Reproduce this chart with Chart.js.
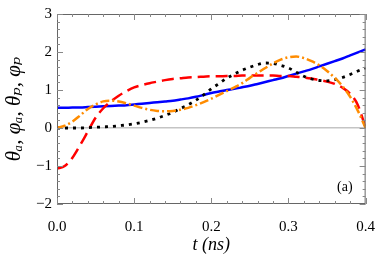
<!DOCTYPE html>
<html>
<head>
<meta charset="utf-8">
<script src="https://cdn.jsdelivr.net/npm/chart.js@4/dist/chart.umd.min.js"></script>
<style>
  html, body { margin: 0; padding: 0; background: #fff; }
  #wrap { width: 381px; height: 256px; }
</style>
</head>
<body>
<div id="wrap"><canvas id="myChart" width="381" height="256"></canvas></div>
<script>
// time axis (ns)
const tValues = [0.00,0.01,0.02,0.03,0.04,0.05,0.06,0.07,0.08,0.09,
  0.10,0.11,0.12,0.13,0.14,0.15,0.16,0.17,0.18,0.19,
  0.20,0.21,0.22,0.23,0.24,0.25,0.26,0.27,0.28,0.29,
  0.30,0.31,0.32,0.33,0.34,0.35,0.36,0.37,0.38,0.39,0.40];

// blue solid
const thetaA = [0.53,0.53,0.54,0.54,0.55,0.56,0.57,0.58,0.59,0.60,
  0.62,0.64,0.66,0.68,0.70,0.72,0.75,0.78,0.82,0.87,
  0.92,0.96,1.00,1.03,1.07,1.11,1.16,1.21,1.26,1.31,
  1.37,1.43,1.49,1.55,1.62,1.69,1.76,1.83,1.91,1.99,2.07];

// red long dash
const phiA = [-1.07,-1.00,-0.78,-0.45,-0.09,0.27,0.52,0.70,0.85,0.97,
  1.07,1.13,1.18,1.22,1.26,1.29,1.31,1.33,1.34,1.35,
  1.36,1.36,1.37,1.37,1.38,1.38,1.38,1.38,1.38,1.37,
  1.37,1.35,1.33,1.30,1.26,1.22,1.16,1.06,0.90,0.60,0.00];

// black dotted
const thetaP = [0.00,0.00,0.00,0.00,0.01,0.02,0.03,0.04,0.06,0.08,
  0.11,0.15,0.20,0.26,0.33,0.41,0.51,0.61,0.73,0.87,
  1.03,1.17,1.31,1.42,1.52,1.60,1.67,1.71,1.70,1.65,
  1.58,1.47,1.36,1.29,1.25,1.24,1.27,1.33,1.41,1.50,1.58];

// orange dash-dot
const phiP = [0.00,0.06,0.17,0.33,0.50,0.62,0.70,0.72,0.70,0.65,
  0.59,0.53,0.48,0.45,0.44,0.45,0.48,0.53,0.60,0.68,
  0.77,0.87,0.97,1.07,1.18,1.32,1.45,1.58,1.70,1.80,
  1.86,1.88,1.84,1.76,1.65,1.50,1.32,1.10,0.82,0.45,0.00];

const xTicks = [0.0, 0.1, 0.2, 0.3, 0.4];
const yTicks = [-2, -1, 0, 1, 2, 3];

const ctx = document.getElementById('myChart');
const serif = "'Liberation Serif', 'DejaVu Serif', serif";

const pts = (ys) => tValues.map((t, i) => ({ x: t, y: ys[i] }));

// frame, inward ticks, panel label
const framePlugin = {
  id: 'frame',
  afterDraw(chart) {
    const c = chart.ctx;
    const a = chart.chartArea;
    const xs = chart.scales.x, ys = chart.scales.y;
    c.save();
    c.strokeStyle = '#666';
    c.lineWidth = 1;
    c.strokeRect(a.left + 0.5, a.top + 0.5, a.right - a.left - 1, a.bottom - a.top - 1);
    c.strokeStyle = '#888';
    c.beginPath();
    for (let i = 0; i <= 20; i++) {
      const v = xs.min + i * 0.02;
      const px = Math.round(xs.getPixelForValue(v)) + 0.5;
      const len = i % 5 === 0 ? 6 : 3;
      c.moveTo(px, a.bottom); c.lineTo(px, a.bottom - len);
      c.moveTo(px, a.top); c.lineTo(px, a.top + len);
    }
    for (let i = 0; i <= 25; i++) {
      const v = ys.min + i * 0.2;
      const py = Math.round(ys.getPixelForValue(v)) + 0.5;
      const len = i % 5 === 0 ? 6 : 3;
      c.moveTo(a.left, py); c.lineTo(a.left + len, py);
      c.moveTo(a.right, py); c.lineTo(a.right - len, py);
    }
    c.stroke();
    c.fillStyle = '#000';
    c.font = "14px " + serif;
    c.textAlign = 'right';
    c.textBaseline = 'middle';
    c.fillText('(a)', a.right - 13, a.bottom - 17);
    c.restore();
  }
};

new Chart(ctx, {
  type: 'line',
  data: {
    datasets: [
      { label: 'θa', data: pts(thetaA), borderColor: '#0000ff', borderWidth: 2.5, order: 4 },
      { label: 'φa', data: pts(phiA), borderColor: '#ff0000', borderWidth: 2.5, borderDash: [12, 6], order: 3 },
      { label: 'θp', data: pts(thetaP), borderColor: '#000000', borderWidth: 2.8, borderDash: [3, 5], order: 2 },
      { label: 'φp', data: pts(phiP), borderColor: '#ff8c00', borderWidth: 2.5, borderDash: [9, 3, 2, 3], order: 1 }
    ]
  },
  options: {
    responsive: false,
    animation: false,
    layout: { padding: { left: 0, top: 10, right: 12, bottom: 0 } },
    elements: {
      point: { radius: 0 },
      line: { cubicInterpolationMode: 'monotone', fill: false }
    },
    plugins: { legend: { display: false }, tooltip: { enabled: false } },
    scales: {
      x: {
        type: 'linear', min: 0, max: 0.4,
        afterFit: (s) => { s.height = 52; },
        afterBuildTicks: (s) => { s.ticks = xTicks.map(v => ({ value: v })); },
        grid: { display: false },
        border: { display: false },
        ticks: {
          color: '#000', padding: 6,
          font: { family: serif, size: 15 },
          callback: (v) => Number(v).toFixed(1)
        },
        title: {
          display: true, text: 't (ns)', color: '#000',
          font: { family: serif, size: 18, style: 'italic' },
          padding: { top: 0, bottom: 0 }
        }
      },
      y: {
        min: -2, max: 3,
        afterFit: (s) => { s.width = 57; },
        afterBuildTicks: (s) => { s.ticks = yTicks.map(v => ({ value: v })); },
        grid: {
          drawTicks: false,
          color: (c) => c.tick && c.tick.value === 0 ? '#c4c4c4' : 'rgba(0,0,0,0)',
          lineWidth: 1.5
        },
        border: { display: false },
        ticks: {
          color: '#000', padding: 5,
          font: { family: serif, size: 15 },
          callback: (v) => String(v).replace('-', '\u2212')
        },
        title: {
          display: true, text: 'θₐ, φₐ, θₚ, φₚ', color: '#000',
          font: { family: serif, size: 21, style: 'italic' },
          padding: { top: 2, bottom: 0 }
        }
      }
    }
  },
  plugins: [framePlugin]
});
</script>
</body>
</html>
